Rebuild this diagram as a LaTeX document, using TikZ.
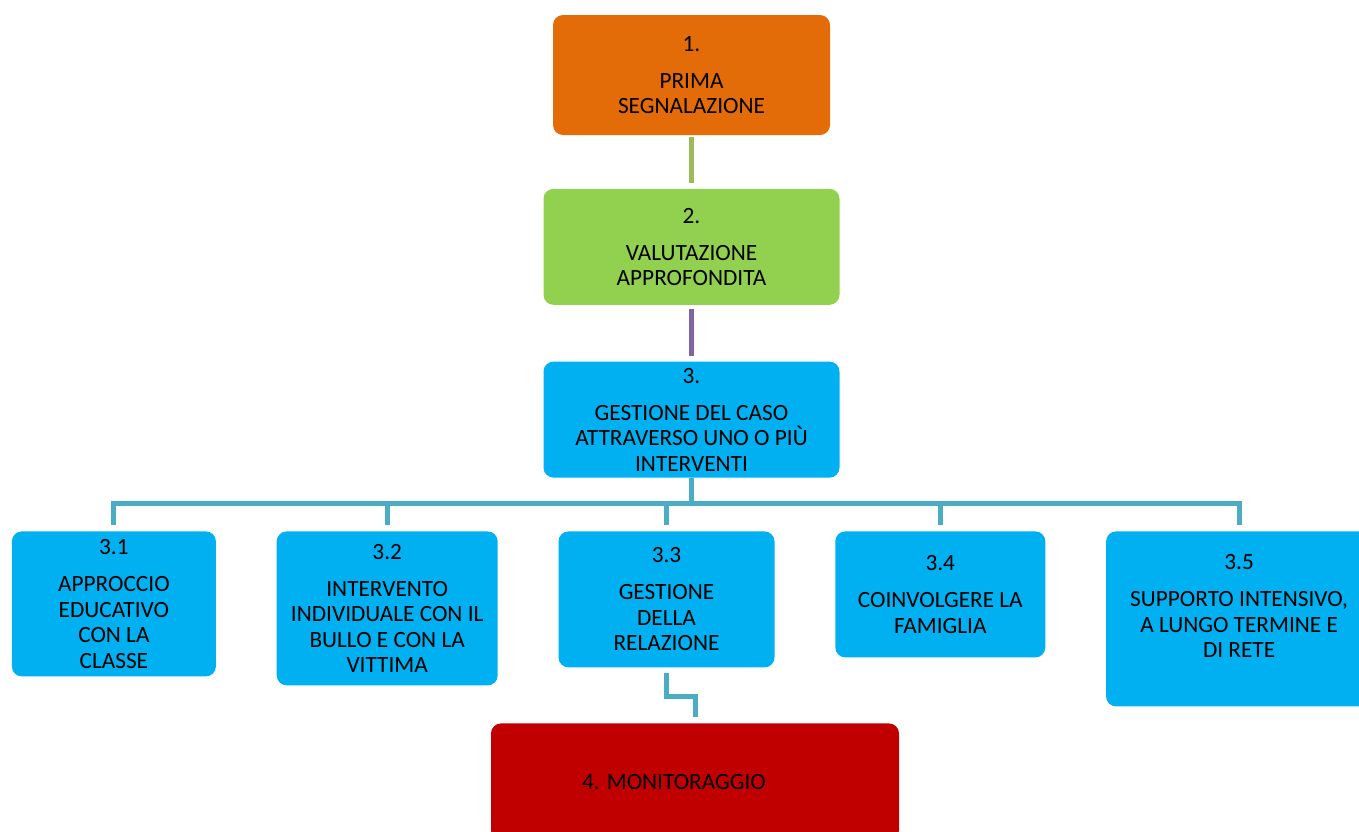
\documentclass[tikz,border=0pt]{standalone}
\usepackage{fontspec}
\setmainfont{Carlito}
\usepackage{tikz}
\usetikzlibrary{
  positioning,
  calc
}
\definecolor{stOrange}{HTML}{E36C09}
\definecolor{stGreen}{HTML}{92D050}
\definecolor{stBlue}{HTML}{00B0F0}
\definecolor{stRed}{HTML}{C00000}
\definecolor{lnGreen}{HTML}{9BBB59}
\definecolor{lnPurple}{HTML}{8064A2}
\definecolor{lnTeal}{HTML}{4BACC6}
\tikzset{
  stepbox/.style={
    rounded corners=5pt, inner sep=0pt, align=center, text=black,
    font=\fontsize{11.65}{12.75}\selectfont
  },
  phase/.style={stepbox, minimum width=148pt, minimum height=58pt},
  sub/.style={stepbox, fill=stBlue},
  link/.style={line width=2.5pt, shorten <=1pt, shorten >=2.5pt},
  tree/.style={line width=2.5pt, lnTeal, shorten >=3pt}
}

\begin{document}
\begin{tikzpicture}[x=0.5pt, y=0.5pt, node distance=27pt]
  \useasboundingbox (0,0) rectangle (1359,-831);
  \node[phase, fill=stOrange, minimum width=138.5pt, minimum height=60pt] (b1) at (691.5,-75) {1.\\[5.75pt]PRIMA\\SEGNALAZIONE};
  \node[phase, fill=stGreen, below=26.5pt of b1] (b2) {2.\\[5.75pt]VALUTAZIONE\\APPROFONDITA};
  \node[phase, fill=stBlue, below=28pt of b2] (b3) {3.\\[5.75pt]GESTIONE DEL CASO\\ATTRAVERSO UNO O PIÙ\\INTERVENTI};
  \node[sub, minimum width=102pt, minimum height=72.5pt, anchor=north west] (g31) at (11.5,-531) {3.1\\[5.75pt]APPROCCIO\\EDUCATIVO\\CON LA\\CLASSE};
  \node[sub, minimum width=110.5pt, minimum height=77pt, right=30pt of g31.north east, anchor=north west] (g32) {3.2\\[5.75pt]INTERVENTO\\INDIVIDUALE CON IL\\BULLO E CON LA\\VITTIMA};
  \node[sub, minimum width=108pt, minimum height=68pt, right=30pt of g32.north east, anchor=north west] (g33) {3.3\\[5.75pt]GESTIONE\\DELLA\\RELAZIONE};
  \node[sub, minimum width=105pt, minimum height=63pt, right=30pt of g33.north east, anchor=north west] (g34) {3.4\\[5.75pt]COINVOLGERE LA\\FAMIGLIA};
  \node[sub, minimum width=133pt, minimum height=87.5pt, right=30pt of g34.north east, anchor=north west] (g35) {3.5\\[5.75pt]SUPPORTO INTENSIVO,\\A LUNGO TERMINE E\\DI RETE\\\mbox{}};
  \node[stepbox, fill=stRed, minimum width=204pt, minimum height=58.5pt, anchor=north] (mon) at (695,-723) {4. MONITORAGGIO\hspace*{21pt}};

  \draw[link, lnGreen] (b1.south) -- (b2.north);
  \draw[link, lnPurple, shorten <=2pt] (b2.south) -- (b3.north);
  \coordinate (bus) at ($(b3.south)+(0,-25)$);
  \draw[tree, shorten >=0pt] (b3.south) -- (bus);
  \foreach \n in {31,32,33,34,35}
    \draw[tree] (bus) -| (g\n.north);
  \draw[tree, shorten <=2.5pt] (g33.south) -- ++(0,-29) -| (mon.north);
\end{tikzpicture}
\end{document}
